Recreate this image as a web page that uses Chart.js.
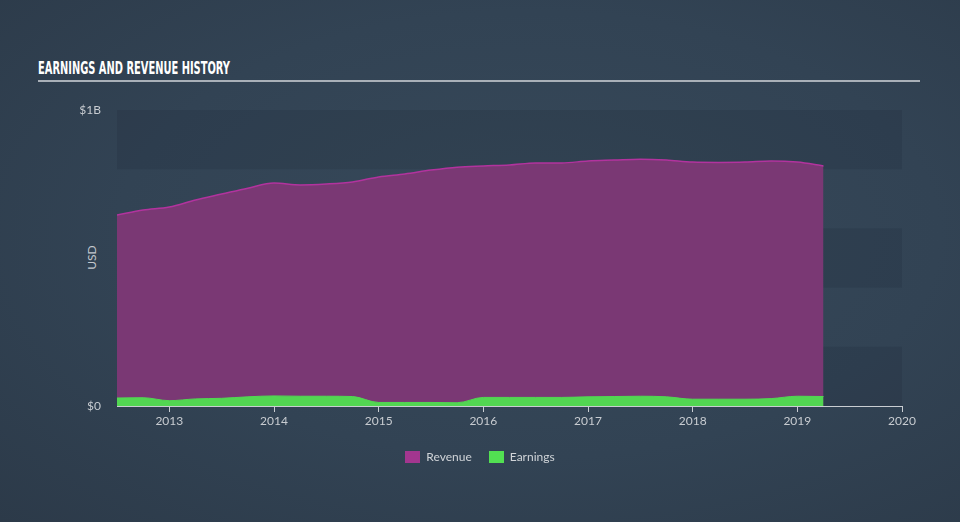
<!DOCTYPE html>
<html>
<head>
<meta charset="utf-8">
<script src="https://cdn.jsdelivr.net/npm/chart.js@4/dist/chart.umd.min.js"></script>
<style>
  html, body { margin: 0; padding: 0; }
  body {
    width: 960px; height: 522px; overflow: hidden; position: relative;
    background: radial-gradient(ellipse at 55% 45%, #37495a 0%, #324354 55%, #2c3a49 100%);
    font-family: Lato, "Open Sans", sans-serif;
  }
  #title {
    position: absolute; left: 38px; top: 57px; white-space: nowrap;
    color: #fff; font: bold 18px "DejaVu Sans Condensed", "Liberation Sans Narrow", sans-serif;
    transform: scaleX(0.61); transform-origin: left;
  }
  #rule { position: absolute; left: 38px; top: 80px; width: 882px; height: 2px; background: #a9b0b8; }
  #usd {
    position: absolute; left: 79px; top: 250px; color: #c3c8ce; font-size: 12px;
    transform: rotate(-90deg); transform-origin: center;
  }
  #legend { position: absolute; top: 449px; left: 0; width: 960px; text-align: center; color: #d0d4d8; font-size: 12px; }
  #legend span.item { display: inline-block; margin: 0 7px; }
  #legend i { display: inline-block; width: 15px; height: 12px; vertical-align: -2px; margin-right: 6px; }
  canvas { position: absolute; left: 0; top: 0; }
</style>
</head>
<body>
<div id="title">EARNINGS AND REVENUE HISTORY</div>
<div id="rule"></div>
<div id="usd">USD</div>
<div style="position:absolute;left:0;top:0;width:960px;height:522px"><canvas id="chart"></canvas></div>
<div id="legend">
  <span class="item"><i style="background:#a3368f"></i>Revenue</span>
  <span class="item"><i style="background:#52e052"></i>Earnings</span>
</div>
<script>
// quarterly points, fractional years
const dates = [2012.5, 2012.75, 2013, 2013.25, 2013.5, 2013.75, 2014, 2014.25, 2014.5, 2014.75,
  2015, 2015.25, 2015.5, 2015.75, 2016, 2016.25, 2016.5, 2016.75, 2017, 2017.25, 2017.5, 2017.75,
  2018, 2018.25, 2018.5, 2018.75, 2019, 2019.25];

// USD billions
const revenue = [0.645, 0.662, 0.672, 0.696, 0.716, 0.736, 0.753, 0.747, 0.750, 0.757,
  0.774, 0.784, 0.797, 0.807, 0.811, 0.814, 0.821, 0.821, 0.828, 0.831, 0.834, 0.831,
  0.824, 0.823, 0.824, 0.828, 0.824, 0.811];

const earnings = [0.027, 0.028, 0.018, 0.024, 0.026, 0.031, 0.034, 0.033, 0.033, 0.032,
  0.012, 0.012, 0.012, 0.011, 0.029, 0.029, 0.029, 0.029, 0.031, 0.032, 0.033, 0.031,
  0.023, 0.023, 0.023, 0.025, 0.033, 0.032];

const xTicks = [2013, 2014, 2015, 2016, 2017, 2018, 2019, 2020];
const yTicks = [0, 1];
const bandEdges = [0, 0.2, 0.4, 0.6, 0.8, 1.0];

const toPoints = vals => vals.map((v, i) => ({ x: dates[i], y: v }));

// alternating darker bands behind the plot
const bandsPlugin = {
  id: 'bands',
  beforeDatasetsDraw(chart) {
    const { ctx, chartArea, scales } = chart;
    ctx.save();
    for (let i = 0; i < bandEdges.length - 1; i++) {
      if ((bandEdges.length - 2 - i) % 2 !== 0) continue;
      const y1 = scales.y.getPixelForValue(bandEdges[i + 1]);
      const y0 = scales.y.getPixelForValue(bandEdges[i]);
      ctx.fillStyle = 'rgba(20, 30, 42, 0.14)';
      ctx.fillRect(chartArea.left, y1, chartArea.right - chartArea.left, y0 - y1);
    }
    ctx.restore();
  }
};

new Chart(document.getElementById('chart'), {
  type: 'line',
  data: {
    datasets: [
      {
        label: 'Earnings',
        data: toPoints(earnings),
        borderColor: '#52d852',
        backgroundColor: '#52d652',
        borderWidth: 1,
        fill: 'origin',
        pointRadius: 0,
        cubicInterpolationMode: 'monotone',
        order: 0
      },
      {
        label: 'Revenue',
        data: toPoints(revenue),
        borderColor: '#b2339e',
        backgroundColor: '#7a3874',
        borderWidth: 1.5,
        fill: 'origin',
        pointRadius: 0,
        cubicInterpolationMode: 'monotone',
        order: 1
      }
    ]
  },
  plugins: [bandsPlugin],
  options: {
    responsive: true,
    maintainAspectRatio: false,
    animation: false,
    layout: { padding: { left: 0, right: 58, top: 110, bottom: 86 } },
    plugins: { legend: { display: false }, tooltip: { enabled: false } },
    scales: {
      x: {
        type: 'linear',
        min: 2012.5,
        max: 2020,
        afterBuildTicks: s => { s.ticks = xTicks.map(v => ({ value: v })); },
        afterFit: s => { s.height = 30; },
        border: { display: true, color: '#c9cdd2', width: 1 },
        grid: { drawOnChartArea: false, drawTicks: true, tickLength: 6, color: '#c9cdd2' },
        ticks: { color: '#c8ccd1', font: { family: 'Lato', size: 12 }, padding: 2,
          callback: v => String(v) }
      },
      y: {
        min: 0,
        max: 1,
        afterBuildTicks: s => { s.ticks = yTicks.map(v => ({ value: v })); },
        afterFit: s => { s.width = 117; },
        border: { display: false },
        grid: { display: false, drawTicks: false },
        ticks: { color: '#c8ccd1', font: { family: 'Lato', size: 12 }, padding: 16,
          callback: v => v === 0 ? '$0' : '$' + v + 'B' }
      }
    }
  }
});
</script>
</body>
</html>
